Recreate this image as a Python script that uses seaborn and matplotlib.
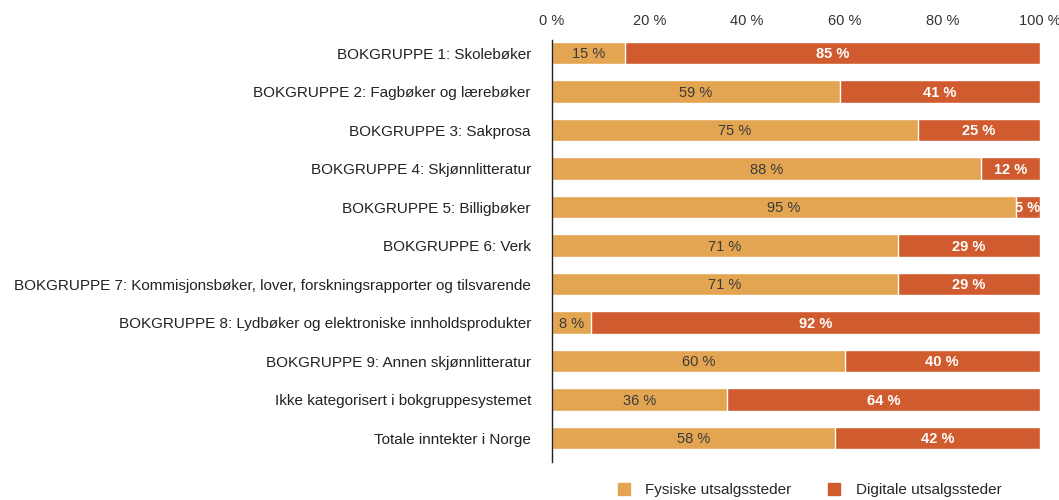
import matplotlib
matplotlib.use("Agg")
import matplotlib.pyplot as plt
import seaborn as sns
import pandas as pd
from matplotlib.lines import Line2D

# ── Data ────────────────────────────────────────────────────────────────────
categories = [
    "BOKGRUPPE 1: Skolebøker",
    "BOKGRUPPE 2: Fagbøker og lærebøker",
    "BOKGRUPPE 3: Sakprosa",
    "BOKGRUPPE 4: Skjønnlitteratur",
    "BOKGRUPPE 5: Billigbøker",
    "BOKGRUPPE 6: Verk",
    "BOKGRUPPE 7: Kommisjonsbøker, lover, forskningsrapporter og tilsvarende",
    "BOKGRUPPE 8: Lydbøker og elektroniske innholdsprodukter",
    "BOKGRUPPE 9: Annen skjønnlitteratur",
    "Ikke kategorisert i bokgruppesystemet",
    "Totale inntekter i Norge",
]
fysiske = [15, 59, 75, 88, 95, 71, 71, 8, 60, 36, 58]
digitale = [85, 41, 25, 12, 5, 29, 29, 92, 40, 64, 42]

C_FYS = "#E3A552"
C_DIG = "#CF5B2E"

df = pd.DataFrame({"kategori": categories, "fysiske": fysiske, "digitale": digitale})
df["total"] = df["fysiske"] + df["digitale"]

sns.set_style("white")
plt.rcParams["font.family"] = ["Liberation Sans", "DejaVu Sans"]

fig = plt.figure(figsize=(10.59, 5.0), dpi=100)
ax = fig.add_axes([0.521, 0.076, 0.461, 0.844])

# stacked: full bar in digital colour, physical share drawn on top
sns.barplot(data=df, x="total", y="kategori", color=C_DIG, orient="h",
            width=0.58, saturation=1, ax=ax)
sns.barplot(data=df, x="fysiske", y="kategori", color=C_FYS, orient="h",
            width=0.58, saturation=1, ax=ax)

for i, (f, d) in enumerate(zip(fysiske, digitale)):
    ax.text(f / 2, i + 0.03, f"{f} %", ha="center", va="center", fontsize=10.5, color="#3a3a3a")
    ax.text(f + d / 2, i + 0.03, f"{d} %", ha="center", va="center", fontsize=10.5,
            color="white", fontweight="bold")

ax.set_xlim(0, 100)
ax.set_ylim(10.62, -0.34)
ax.set_xticks([0, 20, 40, 60, 80, 100])
ax.set_xticklabels([f"{t} %" for t in [0, 20, 40, 60, 80, 100]])
ax.xaxis.tick_top()
ax.tick_params(axis="x", length=0, pad=9, labelsize=10.5, colors="#333333")
ax.tick_params(axis="y", length=0, pad=15, labelsize=11, colors="#222222")
ax.set_xlabel("")
ax.set_ylabel("")
for s in ["top", "right", "bottom"]:
    ax.spines[s].set_visible(False)
ax.spines["left"].set_color("#222222")
ax.spines["left"].set_linewidth(1.0)

handles = [
    Line2D([], [], marker="s", linestyle="", markersize=8, color=C_FYS, label="Fysiske utsalgssteder"),
    Line2D([], [], marker="s", linestyle="", markersize=8, color=C_DIG, label="Digitale utsalgssteder"),
]
fig.legend(handles=handles, loc="center", bbox_to_anchor=(0.760, 0.02), ncol=2,
           frameon=False, fontsize=11, handletextpad=0.4, columnspacing=1.8)

plt.savefig("out.png", dpi=100)
plt.close()
